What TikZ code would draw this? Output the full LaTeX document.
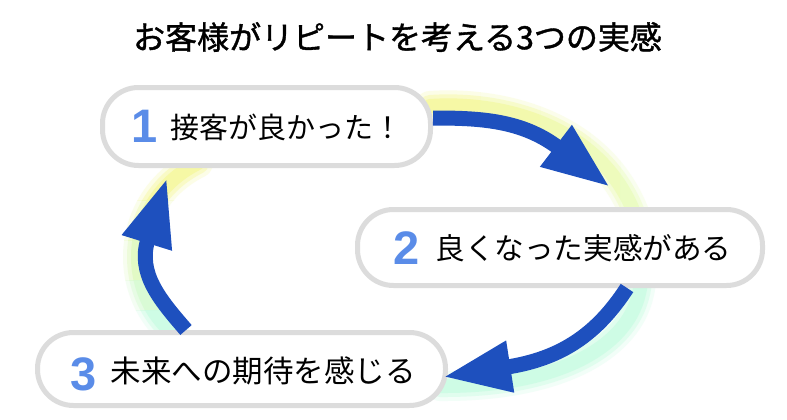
\documentclass[tikz,border=0pt]{standalone}
\usepackage{fontspec}
\setmainfont{Noto Sans CJK JP}
\newfontfamily\numfont{Liberation Sans}
\newfontfamily\titlefont{Noto Sans CJK JP}[FakeBold=1.2]
\usetikzlibrary{arrows.meta}

\definecolor{arrowblue}{HTML}{1E50BE}
\definecolor{numblue}{HTML}{5A8CE8}
\definecolor{boxgray}{HTML}{DCDCDC}
\definecolor{glowyellow}{HTML}{F6F8A0}
\definecolor{glowlime}{HTML}{EAFCC0}
\definecolor{glowmint}{HTML}{CCFCE4}

% soft glow: stacked translucent strokes
\newcommand\glowlayers[2]{%
  \foreach \w/\o in {30/0.25,22/0.45,14/0.85}{%
    \draw[line width=\w pt, draw=#2, opacity=\o, line cap=round] #1;
  }}

\begin{document}
\begin{tikzpicture}[x=1pt,y=-1pt,
  stepbox/.style={draw=boxgray, line width=5pt, fill=white, rounded corners=36pt,
    inner sep=0pt, align=center},
  numlabel/.style={font=\numfont\bfseries\fontsize{47}{47}\selectfont, text=numblue},
  cycarrow/.style={draw=arrowblue, line width=15pt, -{Triangle[length=68pt,width=48pt]}}
]
\useasboundingbox (0,0) rectangle (787,420);
\fill[white] (0,0) rectangle (787,420);

% title
\node[font=\titlefont\fontsize{32}{32}\selectfont] (title) at (397.5,37) {お客様がリピートを考える3つの実感};

% glow 1 (yellow -> lime, left to right)
\foreach \xa/\xb/\m in {380/480/0,480/540/25,540/590/50,590/620/75,620/700/100}{%
  \begin{scope}
    \clip (\xa,60) rectangle (\xb,240);
    \glowlayers{(430,106) .. controls (500,101) and (600,124) .. (635,215)}{glowlime!\m!glowyellow}
  \end{scope}}
% glow 2 (mint)
\glowlayers{(641,280) .. controls (637,345) and (560,387) .. (440,386)}{glowmint}
% glow 3 (mint at bottom -> yellow at top)
\foreach \ya/\yb/\m in {130/200/100,200/240/75,240/280/50,280/310/25,310/370/0}{%
  \begin{scope}
    \clip (90,\ya) rectangle (240,\yb);
    \glowlayers{(175,335) .. controls (121,292) and (124,200) .. (198,163)}{glowyellow!\m!glowmint}
  \end{scope}}

% boxes
\node[stepbox, minimum width=328pt, minimum height=78pt] (box1) at (266.5,126.5) {};
\node[stepbox, minimum width=405pt, minimum height=76pt] (box2) at (560,247.5) {};
\node[stepbox, minimum width=408pt, minimum height=73pt] (box3) at (241.5,369) {};

% numbers and labels
\node[numlabel, anchor=west] (n1) at (128,126) {1};
\node[font=\fontsize{29}{29}\selectfont, anchor=west] (t1) at (167,127) {接客が良かった！};
\node[numlabel, anchor=west] (n2) at (390,248) {2};
\node[font=\fontsize{29.6}{29.6}\selectfont, anchor=west] (t2) at (432,248) {良くなった実感がある};
\node[numlabel, anchor=west] (n3) at (67,374) {3};
\node[font=\fontsize{30.5}{30.5}\selectfont, anchor=west] (t3) at (107,371) {未来への期待を感じる};

% arrows
\coordinate (a1s) at (433,118);
\coordinate (a1e) at (610,187);
\coordinate (a2s) at (627,288);
\coordinate (a2e) at (443,377);
\coordinate (a3s) at (186,330);
\coordinate (a3e) at (167,178);
\draw[cycarrow] (a1s) .. controls (480,118) and (522,120) .. (a1e);
\draw[cycarrow] (a2s) .. controls (597,334) and (561.6,358.6) .. (a2e);
\draw[cycarrow] (a3s) .. controls (160,300) and (137.3,273.5) .. (a3e);
\end{tikzpicture}
\end{document}
